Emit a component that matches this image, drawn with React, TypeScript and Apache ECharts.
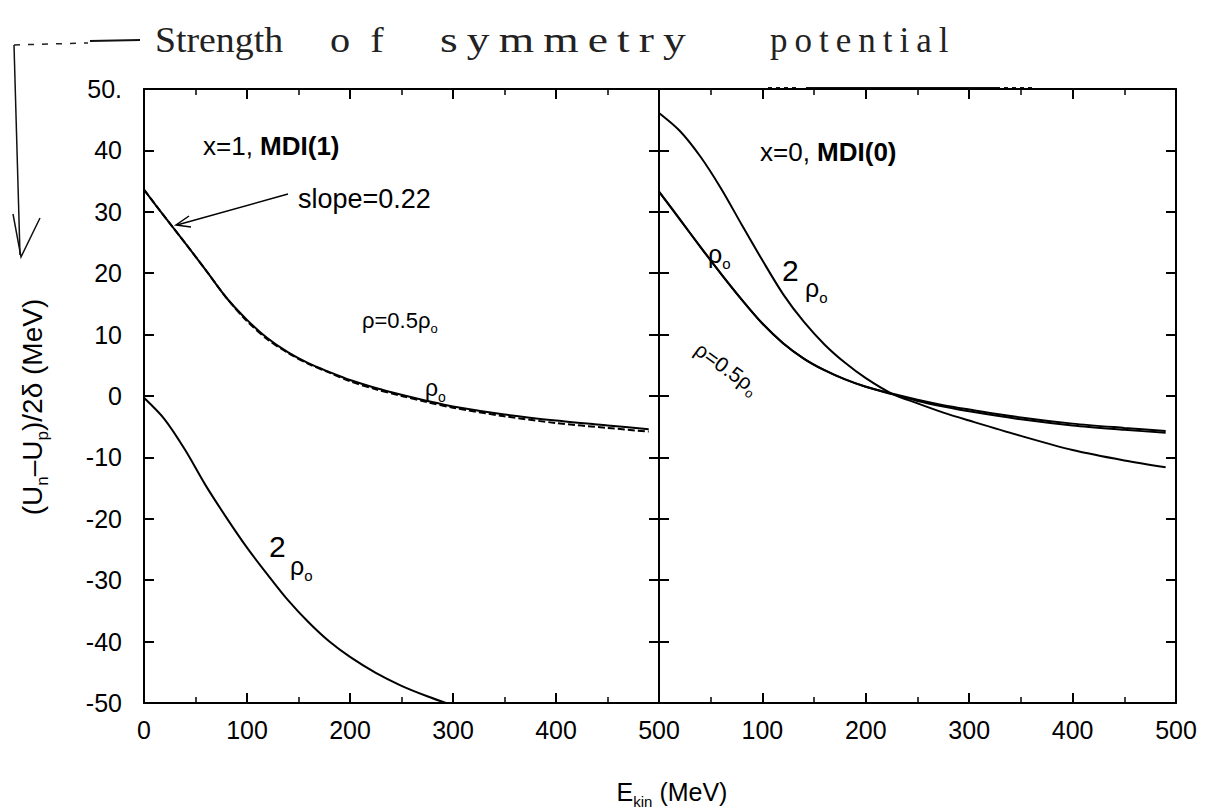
import React, { useEffect, useRef } from "react";
import * as echarts from "echarts";

// Kinetic energy grid (MeV) shared by the curves
const energy = [0, 20, 40, 60, 80, 100, 120, 140, 160, 180, 200, 225, 250, 275, 300, 350, 400, 450, 490];
const energyLow = [0, 20, 40, 60, 80, 100, 120, 140, 160, 180, 200, 225, 250, 275, 300];

// x = 1, MDI(1)
const x1HalfRho0 = [33.6, 29.2, 24.9, 20.5, 16.0, 12.4, 9.4, 7.1, 5.3, 3.9, 2.6, 1.3, 0.2, -0.8, -1.7, -3.0, -4.0, -4.8, -5.4];
const x1Rho0 = [33.6, 29.2, 24.9, 20.5, 16.0, 12.2, 9.2, 7.0, 5.2, 3.8, 2.4, 1.1, 0.0, -1.0, -1.9, -3.3, -4.4, -5.2, -5.8];
const x1TwoRho0 = [-0.3, -3.8, -8.8, -14.6, -19.8, -24.7, -29.1, -33.3, -36.9, -40.0, -42.5, -45.1, -47.2, -48.9, -50.4];

// x = 0, MDI(0)
const x0HalfRho0 = [33.3, 28.8, 24.3, 19.9, 15.7, 11.8, 8.6, 6.1, 4.2, 2.7, 1.5, 0.3, -0.8, -1.7, -2.5, -3.8, -4.8, -5.5, -6.0];
const x0Rho0 = [33.3, 28.8, 24.3, 19.9, 15.7, 11.8, 8.6, 6.1, 4.2, 2.7, 1.5, 0.4, -0.6, -1.5, -2.2, -3.5, -4.5, -5.2, -5.7];
const x0TwoRho0 = [46.1, 43.2, 39.0, 33.8, 27.9, 22.1, 16.6, 12.1, 8.4, 5.4, 2.9, 0.4, -1.2, -2.7, -4.0, -6.5, -8.8, -10.5, -11.6];

// Axis ticks
const energyTicks = { min: 0, max: 500, interval: 100 };
const potentialTicks = { min: -50, max: 50, interval: 10 };

const SANS = "'Liberation Sans', Arial, Helvetica, sans-serif";
const HAND = "'Liberation Serif', 'DejaVu Serif', serif";
const INK = "#000";

const pairs = (xs: number[], ys: number[]) => xs.map((x, i) => [x, ys[i]]);

const subRich = (size: number) => {
  const sub = Math.round(size * 0.6);
  return {
    s: { fontSize: sub, fontFamily: SANS, fill: INK, lineHeight: sub, verticalAlign: "bottom" as const },
    b: { fontSize: size, fontFamily: SANS, fill: INK, fontWeight: "bold" as const },
  };
};

function energyAxis(grid: number, position: "top" | "bottom", labels: boolean, hideMin: boolean) {
  return {
    type: "value" as const,
    gridIndex: grid,
    position,
    ...energyTicks,
    axisLine: { show: true, onZero: false, lineStyle: { color: INK, width: 2 } },
    axisTick: { show: true, inside: true, length: 10, lineStyle: { color: INK, width: 2 } },
    minorTick: { show: true, splitNumber: 2, length: 6, lineStyle: { color: INK, width: 1.5 } },
    splitLine: { show: false },
    minorSplitLine: { show: false },
    axisLabel: labels
      ? { show: true, margin: 14, fontSize: 25, fontFamily: SANS, color: INK, showMinLabel: !hideMin }
      : { show: false },
  };
}

function potentialAxis(grid: number, position: "left" | "right", labels: boolean) {
  return {
    type: "value" as const,
    gridIndex: grid,
    position,
    ...potentialTicks,
    axisLine: { show: true, onZero: false, lineStyle: { color: INK, width: 2 } },
    axisTick: { show: true, inside: true, length: 10, lineStyle: { color: INK, width: 2 } },
    splitLine: { show: false },
    axisLabel: labels
      ? {
          show: true,
          margin: 22,
          fontSize: 25,
          fontFamily: SANS,
          color: INK,
          formatter: (v: number) => (v === 50 ? "50." : String(v)),
        }
      : { show: false },
  };
}

function curve(x: number, y: number, data: number[][], dashed = false) {
  return {
    type: "line" as const,
    xAxisIndex: x,
    yAxisIndex: y,
    data,
    symbol: "none",
    smooth: 0.3,
    clip: true,
    lineStyle: { color: INK, width: 2, type: dashed ? [7, 3] : "solid" },
  };
}

function label(x: number, y: number, text: string, size: number, extra: any = {}) {
  return {
    type: "text",
    x,
    y,
    ...extra,
    style: {
      text,
      fontSize: size,
      fontFamily: SANS,
      fill: INK,
      align: "left",
      verticalAlign: "middle",
      lineHeight: Math.round(size * 1.35),
      rich: subRich(size),
      ...(extra.style || {}),
    },
  };
}

function handWord(x: number, text: string, scaleX: number) {
  return {
    type: "text",
    x,
    y: 40,
    scaleX,
    style: { text, fontSize: 35, fontFamily: HAND, fill: "#222", align: "left", verticalAlign: "middle" },
  };
}

const annotations: any[] = [
  // handwritten heading with its bracket arrow
  handWord(155, "Strength", 1.08),
  handWord(330, "o  f", 1.15),
  handWord(440, "s\u2009y\u2009m\u2009m\u2009e\u2009t\u2009r\u2009y", 1.3),
  handWord(770, "p\u2009o\u2009t\u2009e\u2009n\u2009t\u2009i\u2009a\u2009l", 1.0),
  { type: "polyline", shape: { points: [[14, 45], [88, 43]] }, style: { stroke: "#222", lineWidth: 1.5, lineDash: [6, 8], fill: null } },
  { type: "polyline", shape: { points: [[90, 41], [140, 40]] }, style: { stroke: "#111", lineWidth: 2, fill: null } },
  { type: "polyline", shape: { points: [[14, 45], [17, 150], [20, 255]] }, style: { stroke: "#111", lineWidth: 1.5, fill: null } },
  { type: "polyline", shape: { points: [[13, 214], [21, 257], [40, 218]] }, style: { stroke: "#111", lineWidth: 1.5, fill: null } },
  { type: "polyline", shape: { points: [[768, 88], [800, 88]] }, style: { stroke: "#111", lineWidth: 2, lineDash: [4, 4], fill: null } },
  { type: "polyline", shape: { points: [[806, 88], [1000, 88]] }, style: { stroke: "#111", lineWidth: 2, fill: null } },
  { type: "polyline", shape: { points: [[1004, 88], [1032, 88]] }, style: { stroke: "#111", lineWidth: 2, lineDash: [4, 4], fill: null } },

  // left panel
  label(203, 146, "x=1, {b|MDI(1)}", 26),
  label(298, 199, "slope=0.22", 27),
  { type: "line", shape: { x1: 288, y1: 194, x2: 177, y2: 225 }, style: { stroke: INK, lineWidth: 1.5 } },
  { type: "polyline", shape: { points: [[189, 216], [176, 225], [191, 227]] }, style: { stroke: INK, lineWidth: 1.5, fill: null } },
  label(362, 320, "ρ=0.5ρ{s|o}", 22),
  label(425, 388, "ρ{s|o}", 23),
  label(269, 546, "2", 30),
  label(290, 566, "ρ{s|o}", 25),

  // right panel
  label(760, 152, "x=0, {b|MDI(0)}", 26),
  label(708, 254, "ρ{s|o}", 25),
  label(782, 270, "2", 30),
  label(805, 288, "ρ{s|o}", 25),
  label(727, 368, "ρ=0.5ρ{s|o}", 21, { rotation: -0.62, style: { align: "center" } }),

  // axis titles
  label(672, 792, "E{s|kin} (MeV)", 25, { style: { align: "center" } }),
  label(32, 407, "(U{s|n}–U{s|p})/2δ (MeV)", 28, { rotation: Math.PI / 2, style: { align: "center" } }),
];

export default function App() {
  const ref = useRef<HTMLDivElement>(null);

  useEffect(() => {
    if (!ref.current) return;
    const chart = echarts.init(ref.current, undefined, { renderer: "svg" });
    chart.setOption({
      animation: false,
      backgroundColor: "#fff",
      grid: [
        { left: 144, top: 89, width: 515, height: 614 },
        { left: 659, top: 89, width: 517, height: 614 },
      ],
      xAxis: [
        energyAxis(0, "bottom", true, false),
        energyAxis(0, "top", false, false),
        energyAxis(1, "bottom", true, true),
        energyAxis(1, "top", false, false),
      ],
      yAxis: [
        potentialAxis(0, "left", true),
        potentialAxis(0, "right", false),
        potentialAxis(1, "left", false),
        potentialAxis(1, "right", false),
      ],
      series: [
        curve(0, 0, pairs(energy, x1HalfRho0)),
        curve(0, 0, pairs(energy, x1Rho0), true),
        curve(0, 0, pairs(energyLow, x1TwoRho0)),
        curve(2, 2, pairs(energy, x0HalfRho0)),
        curve(2, 2, pairs(energy, x0Rho0)),
        curve(2, 2, pairs(energy, x0TwoRho0)),
      ],
      graphic: annotations,
    });
    return () => chart.dispose();
  }, []);

  return (
    <div
      ref={ref}
      style={{ position: "fixed", left: 0, top: 0, width: 1205, height: 811, background: "#fff" }}
    />
  );
}
